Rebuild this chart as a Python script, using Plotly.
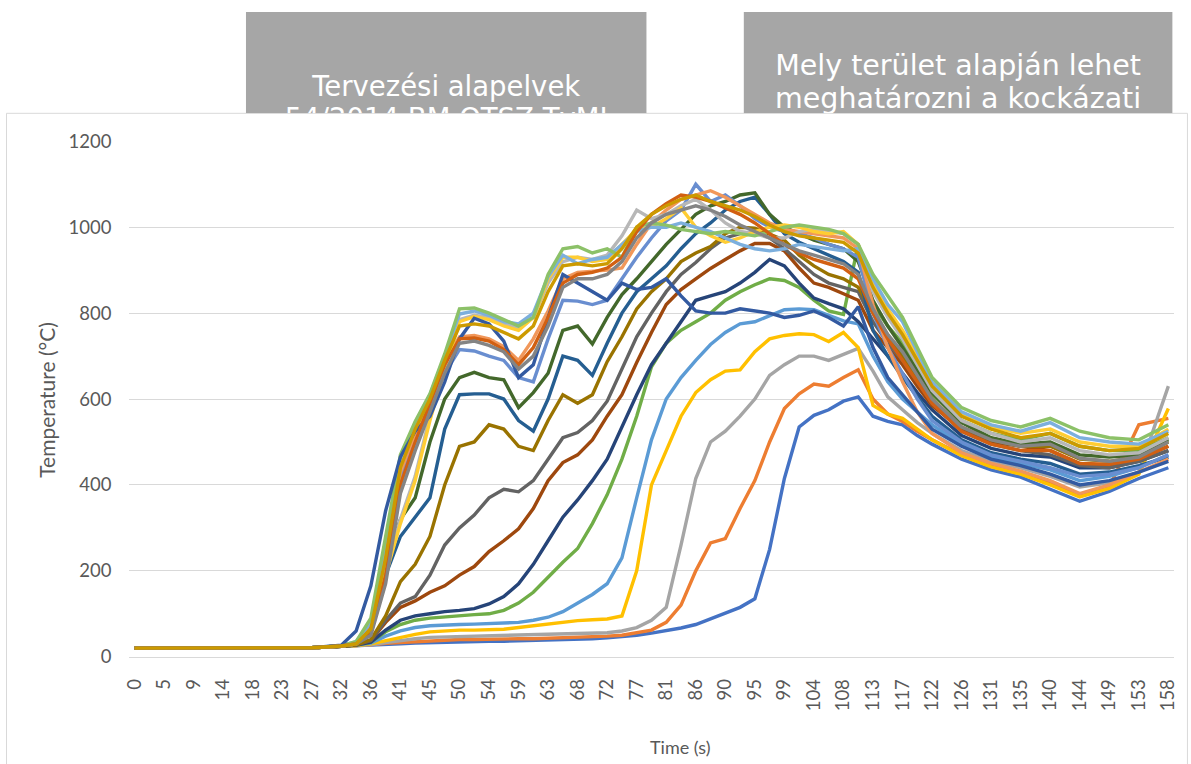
import plotly.graph_objects as go

# Layout is specified in target screen pixels (1191x764 frame).  The page
# body keeps the browser's default 8 px margin and the captured page area is
# slightly larger than the frame, so screen pixels are converted to figure
# pixels with the scale factors SX/SY, the shift CY and the offset OFF.
SCREEN_W, SCREEN_H = 1191, 764
SX, SY = 0.988, 0.971
CY = 3
OFF = 8
W = int(round(SCREEN_W / SX)) - OFF
H = int(round(SCREEN_H / SY)) - OFF

# Category tick labels of the time axis (seconds)
TICK_LABELS = ["0", "5", "9", "14", "18", "23", "27", "32", "36", "41", "45", "50",
               "54", "59", "63", "68", "72", "77", "81", "86", "90", "95", "99", "104",
               "108", "113", "117", "122", "126", "131", "135", "140", "144", "149",
               "153", "158"]

# Sample positions along the category axis (in tick steps)
SAMPLE_POS = [0, 1, 2, 3, 4, 5, 6, 7,
              7.5, 8, 8.5, 9, 9.5, 10, 10.5, 11, 11.5, 12,
              12.5, 13, 13.5, 14, 14.5, 15, 15.5, 16, 16.5, 17,
              17.5, 18, 18.5, 19, 19.5, 20, 20.5, 21, 21.5, 22,
              22.5, 23, 23.5, 24, 24.5, 25, 25.5, 26, 26.5, 27,
              28, 29, 30, 31, 32, 33, 34, 35]

# Thermocouple temperatures (°C)
T1 = [20, 20, 20, 20, 20, 20, 21, 24,
      25, 27, 29, 30, 32, 33, 34, 35, 35, 36,
      36, 37, 37, 38, 39, 40, 42, 44, 47, 50,
      55, 60, 67, 75, 88, 100, 115, 135, 250, 415,
      535, 562, 575, 595, 605, 560, 548, 540, 515, 495,
      460, 435, 418, 390, 362, 385, 415, 440]
T2 = [20, 20, 20, 20, 20, 20, 21, 24,
      25, 28, 31, 33, 35, 37, 38, 40, 40, 41,
      41, 42, 42, 43, 44, 45, 46, 48, 50, 55,
      62, 80, 120, 200, 265, 275, 345, 410, 500, 578,
      612, 635, 630, 650, 668, 600, 565, 548, 525, 505,
      470, 445, 430, 405, 375, 395, 540, 555]
T3 = [20, 20, 20, 20, 20, 20, 21, 24,
      25, 28, 33, 38, 42, 45, 46, 47, 48, 48,
      48, 49, 50, 51, 52, 53, 54, 56, 60, 68,
      85, 115, 260, 415, 500, 525, 560, 600, 655, 680,
      700, 700, 690, 705, 718, 665, 605, 575, 545, 520,
      480, 455, 440, 420, 395, 405, 430, 630]
T4 = [20, 20, 20, 20, 20, 20, 21, 24,
      26, 30, 38, 46, 52, 58, 60, 62, 62, 63,
      64, 68, 72, 76, 80, 84, 86, 88, 95, 200,
      400, 480, 560, 615, 645, 665, 668, 710, 740, 748,
      752, 750, 734, 755, 720, 585, 565, 555, 530, 505,
      468, 442, 425, 400, 372, 392, 425, 578]
T5 = [20, 20, 20, 20, 20, 20, 21, 24,
      27, 32, 48, 60, 68, 72, 74, 75, 76, 77,
      78, 80, 85, 92, 105, 125, 145, 170, 230, 370,
      505, 600, 650, 690, 727, 755, 775, 780, 795, 808,
      810, 808, 795, 782, 775, 700, 640, 600, 570, 540,
      495, 465, 450, 435, 410, 420, 440, 470]
T6 = [20, 20, 20, 20, 20, 20, 21, 24,
      27, 34, 58, 75, 85, 90, 93, 96, 98, 100,
      108, 125, 150, 185, 220, 252, 310, 377, 460, 560,
      675, 730, 760, 780, 800, 830, 850, 866, 880, 876,
      860, 830, 805, 797, 960, 820, 770, 730, 670, 610,
      550, 520, 505, 520, 490, 480, 480, 510]
T7 = [20, 20, 20, 20, 20, 20, 21, 24,
      27, 34, 62, 85, 95, 100, 105, 108, 112, 123,
      140, 170, 215, 270, 325, 365, 410, 460, 535, 610,
      680, 730, 780, 830, 840, 850, 870, 895, 925, 910,
      870, 835, 822, 810, 780, 740, 700, 660, 615, 575,
      515, 485, 470, 465, 440, 440, 455, 480]
T8 = [20, 20, 20, 20, 20, 20, 21, 24,
      28, 38, 80, 115, 130, 150, 165, 190, 210, 245,
      270, 298, 345, 410, 452, 470, 505, 560, 610, 685,
      755, 820, 855, 880, 904, 925, 945, 962, 962, 945,
      905, 870, 860, 845, 830, 760, 720, 680, 630, 585,
      530, 500, 490, 480, 450, 445, 460, 490]
T9 = [20, 20, 20, 20, 20, 20, 21, 24,
      28, 38, 85, 125, 140, 190, 260, 300, 330, 370,
      390, 384, 410, 460, 510, 522, 550, 595, 670, 745,
      800, 850, 890, 918, 950, 975, 985, 990, 975, 950,
      920, 890, 870, 860, 850, 780, 730, 690, 640, 590,
      525, 495, 480, 470, 445, 440, 455, 480]
T10 = [20, 20, 20, 20, 20, 20, 21, 24,
       28, 40, 95, 175, 215, 280, 400, 490, 500, 540,
       530, 490, 480, 550, 610, 590, 610, 687, 745, 810,
       850, 880, 920, 940, 955, 985, 1000, 998, 985, 970,
       935, 910, 890, 880, 860, 800, 750, 700, 650, 600,
       535, 505, 490, 490, 460, 455, 465, 500]
T11 = [20, 20, 20, 20, 20, 20, 21, 25,
       30, 70, 190, 280, 325, 370, 530, 610, 612, 612,
       600, 550, 525, 600, 700, 690, 655, 730, 800, 850,
       880, 910, 950, 985, 1010, 1040, 1060, 1070, 1030, 985,
       965, 950, 935, 920, 895, 760, 700, 650, 605, 560,
       505, 475, 460, 450, 425, 430, 445, 465]
T12 = [20, 20, 20, 20, 20, 20, 21, 25,
       30, 75, 210, 320, 370, 500, 600, 650, 662, 650,
       645, 580, 615, 660, 760, 770, 728, 790, 843, 880,
       920, 960, 995, 1030, 1050, 1060, 1075, 1080, 1030, 1000,
       985, 970, 960, 950, 920, 830, 770, 720, 665, 615,
       545, 510, 495, 500, 470, 465, 470, 505]
T13 = [20, 20, 20, 20, 20, 20, 21, 25,
       30, 80, 230, 420, 500, 580, 660, 715, 712, 700,
       690, 650, 640, 740, 830, 828, 820, 830, 880, 930,
       975, 1015, 1040, 1100, 1060, 1075, 1050, 1020, 1000, 990,
       985, 975, 960, 950, 930, 800, 720, 660, 600, 550,
       500, 470, 455, 440, 420, 425, 440, 470]
T14 = [20, 20, 20, 20, 20, 20, 21, 25,
       30, 80, 240, 430, 520, 600, 690, 745, 748, 740,
       722, 690, 740, 805, 880, 895, 897, 900, 905, 960,
       1010, 1040, 1065, 1075, 1085, 1070, 1050, 1030, 1010, 995,
       990, 985, 980, 975, 950, 820, 720, 640, 570, 520,
       475, 450, 432, 410, 380, 400, 430, 460]
T15 = [20, 20, 20, 20, 20, 20, 21, 25,
       30, 60, 200, 320, 420, 560, 680, 785, 795, 790,
       775, 765, 790, 870, 920, 930, 925, 935, 980, 1040,
       1020, 1030, 1050, 1065, 1040, 1010, 990, 985, 975, 975,
       990, 995, 990, 985, 960, 850, 790, 740, 680, 620,
       550, 520, 500, 510, 480, 470, 475, 510]
T16 = [20, 20, 20, 20, 20, 20, 21, 25,
       30, 55, 190, 310, 410, 550, 670, 780, 792, 785,
       770, 760, 790, 880, 930, 930, 920, 925, 960, 995,
       1000, 1020, 1045, 1000, 980, 965, 975, 990, 1000, 1005,
       1000, 990, 985, 990, 960, 870, 810, 760, 700, 635,
       565, 535, 520, 530, 500, 490, 490, 530]
T17 = [20, 20, 20, 20, 20, 20, 21, 26,
       35, 80, 270, 460, 545, 610, 700, 798, 805, 795,
       780, 775, 800, 885, 935, 915, 925, 930, 960, 990,
       1000, 1000, 1010, 1000, 990, 975, 960, 950, 945, 950,
       960, 955, 950, 945, 950, 880, 820, 780, 710, 640,
       570, 540, 525, 545, 510, 500, 495, 525]
T18 = [20, 20, 20, 20, 20, 20, 21, 26,
       35, 90, 280, 470, 548, 612, 705, 810, 812, 800,
       785, 770, 790, 890, 950, 955, 940, 950, 930, 1000,
       1010, 1005, 995, 990, 985, 990, 985, 980, 990, 1000,
       1005, 1000, 995, 985, 960, 890, 840, 790, 720, 650,
       580, 550, 535, 555, 525, 510, 505, 540]
T19 = [20, 20, 20, 20, 20, 20, 21, 27,
       60, 165, 340, 465, 525, 560, 640, 740, 788, 775,
       735, 650, 680, 790, 890, 870, 850, 830, 870, 855,
       860, 880, 840, 805, 800, 800, 810, 805, 800, 790,
       795, 805, 790, 770, 815, 720, 650, 610, 570, 530,
       490, 460, 445, 425, 400, 410, 430, 455]
T20 = [20, 20, 20, 20, 20, 20, 21, 25,
       30, 55, 190, 400, 500, 590, 680, 740, 742, 735,
       715, 680, 720, 790, 870, 890, 895, 905, 930, 990,
       1030, 1055, 1075, 1070, 1060, 1045, 1030, 1010, 985, 960,
       940, 925, 915, 905, 880, 800, 740, 690, 640, 590,
       525, 495, 480, 480, 450, 448, 460, 490]
T21 = [20, 20, 20, 20, 20, 20, 21, 25,
       30, 50, 170, 380, 480, 570, 660, 730, 735, 725,
       710, 670, 700, 770, 860, 880, 880, 890, 920, 975,
       1010, 1030, 1040, 1050, 1040, 1025, 1005, 990, 975, 960,
       945, 935, 925, 915, 890, 810, 750, 710, 655, 600,
       535, 505, 490, 495, 462, 455, 465, 500]
T22 = [20, 20, 20, 20, 20, 20, 21, 25,
       30, 65, 230, 440, 530, 600, 690, 770, 775, 770,
       755, 740, 770, 850, 910, 915, 910, 915, 950, 1000,
       1030, 1050, 1065, 1075, 1060, 1050, 1040, 1025, 1005, 990,
       980, 975, 970, 965, 940, 860, 800, 750, 690, 630,
       560, 530, 510, 520, 490, 480, 485, 520]

SERIES = [T1, T2, T3, T4, T5, T6, T7, T8, T9, T10, T11,
          T12, T13, T14, T15, T16, T17, T18, T19, T20, T21, T22]
COLORS = ["#4472C4", "#ED7D31", "#A5A5A5", "#FFC000", "#5B9BD5", "#70AD47",
          "#264478", "#9E480E", "#636363", "#997300", "#255E91", "#43682B",
          "#698ED0", "#F1975A", "#B7B7B7", "#FFCD33", "#7CAFDD", "#8CC168",
          "#335AA1", "#D26012", "#848484", "#CC9A00"]

Y_TICKS = [0, 200, 400, 600, 800, 1000, 1200]

# Slide text boxes behind the chart (screen pixels)
BOX_FILL = "#a6a6a6"
BOXES = [(247, 646), (743, 1170)]
BOX_LINES = [
    (446.5, 88, "Tervezési alapelvek", 27.5),
    (446.5, 120, "54/2014 BM OTSZ TvMI", 27.5),
    (956.5, 67, "Mely terület alapján lehet", 28.5),
    (956.5, 100, "meghatározni a kockázati", 28.5),
]

FONT = "Lato, 'Open Sans', sans-serif"
BOX_FONT = "'DejaVu Sans', sans-serif"
GREY_TXT = "#595959"
GRID = "#d9d9d9"


def fig_x(x):
    """Screen x pixel -> figure x pixel."""
    return x / SX - OFF


def fig_y(y):
    """Screen y pixel (from top) -> figure y pixel (from top)."""
    return (y - CY) / SY - OFF


def paper_x(x):
    return fig_x(x) / W


def paper_y(y):
    return 1 - fig_y(y) / H


fig = go.Figure()

for i, (vals, col) in enumerate(zip(SERIES, COLORS)):
    fig.add_trace(go.Scatter(
        x=SAMPLE_POS, y=vals, mode="lines",
        line=dict(color=col, width=3.4),
        name=f"T{i + 1}", showlegend=False, hoverinfo="skip",
        xaxis="x", yaxis="y",
    ))

# Text of the slide boxes, clipped by the chart frame
for bx, by, txt, size in BOX_LINES:
    fig.add_trace(go.Scatter(
        x=[bx], y=[by], mode="text", text=[txt],
        textposition="middle center",
        textfont=dict(family=BOX_FONT, size=size, color="white"),
        cliponaxis=True, showlegend=False, hoverinfo="skip",
        xaxis="x2", yaxis="y2",
    ))

top_px = 112
plot_left, plot_right = 130, 1172
plot_top, plot_bottom = 140, 655

px_per_step = (1166 - 136) / 35.0
x_lo = -(136 - plot_left) / px_per_step
x_hi = 35 + (plot_right - 1166) / px_per_step

shapes = []
for x0, x1 in BOXES:
    shapes.append(dict(type="rect", xref="x2", yref="y2", x0=x0, x1=x1, y0=5, y1=top_px,
                       fillcolor=BOX_FILL, line=dict(width=0), layer="below"))
shapes.append(dict(type="rect", xref="paper", yref="paper",
                   x0=0.5 / W, x1=paper_x(1185), y0=-0.02, y1=paper_y(top_px),
                   fillcolor="rgba(0,0,0,0)", line=dict(color=GRID, width=1), layer="below"))

fig.update_layout(
    width=W, height=H,
    margin=dict(l=0, r=0, t=0, b=0),
    paper_bgcolor="white", plot_bgcolor="white",
    font=dict(family=FONT, color=GREY_TXT),
    xaxis=dict(
        domain=[paper_x(plot_left), paper_x(plot_right)],
        range=[x_lo, x_hi],
        tickmode="array", tickvals=list(range(len(TICK_LABELS))), ticktext=TICK_LABELS,
        tickangle=-90, tickfont=dict(size=18.5, color=GREY_TXT, family=FONT),
        ticks="", showgrid=False, zeroline=False,
        showline=True, linecolor=GRID, linewidth=1,
        ticklabelstandoff=14, anchor="y",
    ),
    yaxis=dict(
        domain=[paper_y(plot_bottom), paper_y(plot_top)],
        range=[0, 1200],
        tickmode="array", tickvals=Y_TICKS,
        tickfont=dict(size=18.5, color=GREY_TXT, family=FONT),
        ticks="", showgrid=True, gridcolor=GRID, gridwidth=1,
        zeroline=False, showline=False, ticklabelstandoff=16, anchor="x",
    ),
    xaxis2=dict(domain=[0, 1], range=[OFF * SX, (W + OFF) * SX], visible=False,
                anchor="y2", fixedrange=True),
    yaxis2=dict(domain=[paper_y(top_px), 1], range=[top_px, OFF * SY + CY], visible=False,
                anchor="x2", fixedrange=True),
    shapes=shapes,
    annotations=[
        dict(text="Temperature (°C)", xref="paper", yref="paper",
             x=paper_x(48), y=paper_y(398), xanchor="center", yanchor="middle",
             textangle=-90, showarrow=False,
             font=dict(size=21, color=GREY_TXT, family=FONT)),
        dict(text="Time (s)", xref="paper", yref="paper",
             x=paper_x(680), y=paper_y(745), xanchor="center", yanchor="middle",
             showarrow=False, font=dict(size=18, color=GREY_TXT, family=FONT)),
    ],
)

fig.write_html("out.html")
